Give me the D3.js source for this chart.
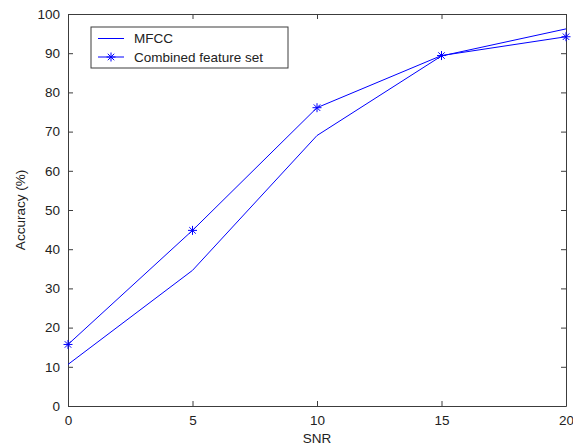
<!DOCTYPE html>
<html>
<head>
<meta charset="utf-8">
<script src="https://cdn.jsdelivr.net/npm/d3@7"></script>
<style>
  body { margin:0; background:#fff; }
  svg text { font-family: "Liberation Sans", Arial, sans-serif; fill:#222; }
</style>
</head>
<body>
<div id="chart"></div>
<script>
// data
const snr = [0, 5, 10, 15, 20];
const mfcc = [10.6, 34.6, 69.0, 89.3, 96.2];
const combined = [15.7, 44.8, 76.1, 89.4, 94.2];
const xTicks = [0, 5, 10, 15, 20];
const yTicks = [0, 10, 20, 30, 40, 50, 60, 70, 80, 90, 100];
const seriesNames = ["MFCC", "Combined feature set"];

const width = 573, height = 448;
const margin = {t:14, r:7, b:42, l:68};
const w = width - margin.l - margin.r;
const h = height - margin.t - margin.b;
const axisColor = "rgb(60,60,60)";
const lineColor = "rgb(0,0,255)";

const svg = d3.select('#chart').append('svg')
  .attr('width', width)
  .attr('height', height);

const plot = svg.append('g')
  .attr('transform', `translate(${margin.l},${margin.t})`);

const scaleX = d3.scaleLinear().domain([0,20]).range([0,w]);
const scaleY = d3.scaleLinear().domain([0,100]).range([h,0]);

// axes: ticks point inwards, MATLAB style box
const axisB = d3.axisBottom(scaleX).tickValues(xTicks).tickSizeInner(-5).tickSizeOuter(0).tickPadding(9);
const axisL = d3.axisLeft(scaleY).tickValues(yTicks).tickSizeInner(-5).tickSizeOuter(0).tickPadding(8);
const axisT = d3.axisTop(scaleX).tickValues(xTicks).tickSizeInner(-5).tickSizeOuter(0).tickFormat('');
const axisR = d3.axisRight(scaleY).tickValues(yTicks).tickSizeInner(-5).tickSizeOuter(0).tickFormat('');

function styleAxis(g){
  g.selectAll('.domain').style('stroke', axisColor).style('stroke-width', 1);
  g.selectAll('line').style('stroke', axisColor);
  g.selectAll('text').style('font-size', '13.5px').style('fill', '#222')
    .style('font-family', '"Liberation Sans", Arial, sans-serif');
}

plot.append('g').attr('transform', `translate(0,${h})`).call(axisB).call(styleAxis);
plot.append('g').call(axisL).call(styleAxis);
plot.append('g').call(axisT).call(styleAxis);
plot.append('g').attr('transform', `translate(${w},0)`).call(axisR).call(styleAxis);

// lines
const line = d3.line()
  .x(d => scaleX(d[0]))
  .y(d => scaleY(d[1]));

const mfccPts = snr.map((s,i) => [s, mfcc[i]]);
const combPts = snr.map((s,i) => [s, combined[i]]);

plot.append('path').datum(mfccPts)
  .attr('d', line)
  .attr('fill', 'none')
  .attr('stroke', lineColor)
  .attr('stroke-width', 1);

plot.append('path').datum(combPts)
  .attr('d', line)
  .attr('fill', 'none')
  .attr('stroke', lineColor)
  .attr('stroke-width', 1);

// asterisk marker
function star(sel, r){
  const d = r * 0.72;
  sel.append('line').attr('x1', -r).attr('x2', r).attr('y1', 0).attr('y2', 0);
  sel.append('line').attr('x1', 0).attr('x2', 0).attr('y1', -r).attr('y2', r);
  sel.append('line').attr('x1', -d).attr('x2', d).attr('y1', -d).attr('y2', d);
  sel.append('line').attr('x1', -d).attr('x2', d).attr('y1', d).attr('y2', -d);
  sel.selectAll('line').attr('stroke', lineColor).attr('stroke-width', 1);
}

plot.selectAll('.marker')
  .data(combPts)
  .enter().append('g')
  .attr('class', 'marker')
  .attr('transform', d => `translate(${scaleX(d[0])},${scaleY(d[1])})`)
  .each(function(){ star(d3.select(this), 4.5); });

// axis titles
svg.append('text')
  .attr('x', margin.l + w/2)
  .attr('y', height - 5)
  .attr('text-anchor', 'middle')
  .style('font-size', '13.5px')
  .text('SNR');

svg.append('text')
  .attr('transform', `translate(25,${margin.t + h/2}) rotate(-90)`)
  .attr('text-anchor', 'middle')
  .style('font-size', '13.5px')
  .text('Accuracy (%)');

// legend
const legend = svg.append('g').attr('transform', 'translate(91,27)');
legend.append('rect')
  .attr('x', 0).attr('y', 0)
  .attr('width', 197).attr('height', 41)
  .attr('fill', '#fff')
  .attr('stroke', axisColor)
  .attr('stroke-width', 1);

const rows = legend.selectAll('.row')
  .data(seriesNames)
  .enter().append('g')
  .attr('class', 'row')
  .attr('transform', (d,i) => `translate(0,${11.5 + i*18.5})`);

rows.append('line')
  .attr('x1', 7).attr('x2', 33)
  .attr('y1', 0).attr('y2', 0)
  .attr('stroke', lineColor).attr('stroke-width', 1);

rows.append('text')
  .attr('x', 43).attr('y', 0)
  .attr('dy', '0.36em')
  .style('font-size', '13.5px')
  .text(d => d);

rows.filter((d,i) => i === 1)
  .append('g')
  .attr('transform', 'translate(20,0)')
  .each(function(){ star(d3.select(this), 4.5); });
</script>
</body>
</html>
